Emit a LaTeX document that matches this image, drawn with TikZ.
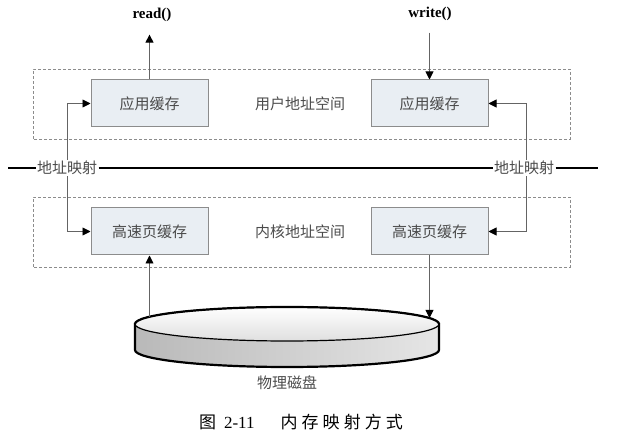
\documentclass[tikz,border=0pt]{standalone}
\usepackage{fontspec}
\setmainfont{Liberation Serif}
\newfontfamily\cjk{Noto Sans CJK SC}
\newfontfamily\cjkcap[LetterSpace=24]{Noto Sans CJK SC}
\usepackage{tikz}
\usetikzlibrary{arrows.meta}
\definecolor{boite}{RGB}{233,238,243}
\definecolor{bord}{RGB}{140,140,140}
\definecolor{texte}{RGB}{75,75,75}
\definecolor{fleche}{RGB}{100,100,100}

\begin{document}
\begin{tikzpicture}[x=1pt, y=1pt, thick, line width=1pt,
  cache/.style={draw=bord, fill=boite, line width=1pt, minimum width=117pt, minimum height=47pt, font=\cjk\fontsize{15}{17}\selectfont, text=texte},
  zone/.style={draw=bord, dash pattern=on 3pt off 2pt, line width=0.8pt},
  etiq/.style={font=\cjk\fontsize{15}{17}\selectfont, text=texte},
  lien/.style={draw=fleche, line width=0.9pt, -{Triangle[length=8pt,width=8pt,color=black]}},
  lien2/.style={draw=fleche, line width=0.9pt, {Triangle[length=8pt,width=8pt,color=black]}-{Triangle[length=8pt,width=8pt,color=black]}}]
\useasboundingbox (0,0) rectangle (621,436);
% Espaces d'adressage
\draw[zone] (33,297) rectangle (570,367);
\draw[zone] (33,169) rectangle (570,239);
% Caches
\node[cache] (appL) at (149.5,332.5) {应用缓存};
\node[cache] (appR) at (429.5,332.5) {应用缓存};
\node[cache] (pageL) at (149.5,204.5) {高速页缓存};
\node[cache] (pageR) at (429.5,204.5) {高速页缓存};
\node[etiq] (user) at (300,332.5) {用户地址空间};
\node[etiq] (noyau) at (300,204.5) {内核地址空间};
% read / write
\node[font=\bfseries\fontsize{15}{17}\selectfont] (lire) at (152,421) {read()};
\node[font=\bfseries\fontsize{15}{17}\selectfont] (ecrire) at (430,422) {write()};
\draw[lien, shorten >=9pt] (appL.north) -- (appL.north |- lire.south);
\draw[lien, shorten <=8pt] (ecrire.south -| appR.north) -- (appR.north);
% Mappage
\draw[lien2] (appL.west) -- ++(-23,0) |- (pageL.west);
\draw[lien2] (appR.east) -- ++(38,0) |- (pageR.east);
% Ligne de séparation
\node[etiq, fill=white, inner sep=1pt] (mapG) at (67,268) {地址映射};
\node[etiq, fill=white, inner sep=1pt] (mapD) at (524,268) {地址映射};
\coordinate (bordG) at (8,268);
\coordinate (bordD) at (598,268);
\draw[line width=2pt] (bordG) -- (mapG.west) (mapG.east) -- (mapD.west) (mapD.east) -- (bordD);
% Côté du disque
\draw[line width=2.2pt, left color=gray!55, right color=gray!20] (135,112) -- (135,86) arc[start angle=180, end angle=360, x radius=152, y radius=17] -- (439,112) -- cycle;
% Dessus du disque
\draw[line width=1.2pt, top color=white, bottom color=gray!25] (287,112) ellipse[x radius=152, y radius=17];
\draw[line width=2.2pt] (135,112) arc[start angle=180, end angle=0, x radius=152, y radius=17];
\coordinate (disqueG) at (149.5,119);
\coordinate (disqueD) at (429.5,118);
\draw[lien] (disqueG) -- (pageL.south);
\draw[lien] (pageR.south) -- (disqueD);
\node[etiq] (disque) at (287,53) {物理磁盘};
% Légende
\node[font=\fontsize{17}{20}\selectfont] (legende) at (301,14) {{\cjkcap 图}\hspace{8pt}2-11\hspace{26pt}{\cjkcap 内存映射方式}};
\end{tikzpicture}
\end{document}
